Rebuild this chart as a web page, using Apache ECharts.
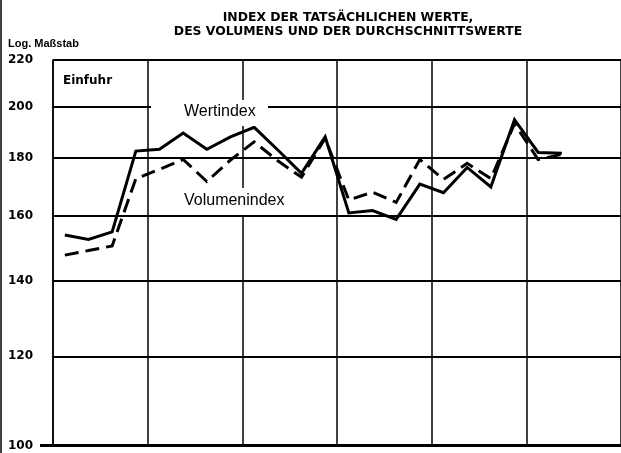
<!DOCTYPE html>
<html>
<head>
<meta charset="utf-8">
<script src="https://cdn.jsdelivr.net/npm/echarts@6/dist/echarts.min.js"></script>
<style>html,body{margin:0;padding:0;background:#fff;}#c{width:621px;height:453px;}</style>
</head>
<body>
<div id="c"></div>
<script>
// Quarters over six years (axis labels not shown in the reference)
const categories = [];
for (let y = 1; y <= 6; y++) { for (let q = 1; q <= 4; q++) { categories.push(y + '-' + q); } }
// Wertindex (solid line)
const wertindex = [153.8, 152.4, 154.8, 182.6, 183.3, 189.5, 183.3, 188.0, 191.7, 183.0, 174.5, 188.0,
                   160.9, 161.7, 158.8, 170.7, 167.7, 176.6, 169.7, 194.7, 182.1, 181.8];
// Volumenindex (dashed line)
const volumenindex = [147.6, 149.0, 150.4, 172.6, 175.9, 179.5, 171.6, 179.3, 186.1, 179.0, 173.1, 187.5,
                      165.2, 167.9, 164.4, 179.5, 172.3, 178.1, 172.6, 193.1, 179.5, 181.4];
// Log-scale tick labels
const yTicks = [100, 120, 140, 160, 180, 200, 220];
const titleLines = ['INDEX DER TATSÄCHLICHEN WERTE,', 'DES VOLUMENS UND DER DURCHSCHNITTSWERTE'];

const chart = echarts.init(document.getElementById('c'), null, {renderer: 'canvas'});
const labelFont = {fontFamily: 'DejaVu Sans', fontWeight: 'bold', fontSize: 12, color: '#000'};

chart.setOption({
  animation: false,
  backgroundColor: '#fff',
  title: {
    text: titleLines.join('\n'),
    left: 343, top: 6, textAlign: 'center',
    textStyle: {fontFamily: 'DejaVu Sans', fontWeight: 'bold', fontSize: 12.4, lineHeight: 14, color: '#000'}
  },
  grid: {left: 53, top: 60, width: 570, bottom: 7.5},
  xAxis: {
    type: 'category', data: categories, boundaryGap: true,
    axisLine: {show: true, onZero: false, lineStyle: {color: '#000', width: 3}},
    axisTick: {show: false}, axisLabel: {show: false},
    splitLine: {show: true, interval: 3, lineStyle: {color: '#000', width: 1.5}}
  },
  yAxis: {
    type: 'log', logBase: 10, min: 100, max: 220,
    axisLine: {show: true, lineStyle: {color: '#000', width: 1.5}},
    axisTick: {show: false}, axisLabel: {show: false}, splitLine: {show: false}
  },
  series: [
    {
      name: 'Wertindex', type: 'line', data: wertindex, showSymbol: false, symbol: 'none',
      lineStyle: {color: '#000', width: 3, join: 'miter'}, z: 5,
      markLine: {
        silent: true, symbol: 'none', animation: false,
        lineStyle: {color: '#000', width: 2, type: 'solid'},
        label: Object.assign({position: 'start', distance: 20, formatter: p => String(p.value)}, labelFont),
        data: yTicks.map(v => ({yAxis: v}))
      }
    },
    {
      name: 'Volumenindex', type: 'line', data: volumenindex, showSymbol: false, symbol: 'none',
      lineStyle: {color: '#000', width: 3, type: [14, 7], join: 'miter'}, z: 5
    }
  ],
  graphic: [
    {type: 'line', shape: {x1: 1, y1: 0, x2: 1, y2: 453}, style: {stroke: '#000', lineWidth: 1.5}, z: 50},
    {type: 'line', shape: {x1: 40, y1: 445.5, x2: 53, y2: 445.5}, style: {stroke: '#000', lineWidth: 3}, z: 50},
    {type: 'text', left: 8, top: 38, style: {text: 'Log. Maßstab', font: 'bold 11px "Liberation Sans"', fill: '#000'}, z: 50},
    {type: 'text', left: 63, top: 75, style: {text: 'Einfuhr', font: 'bold 12px "DejaVu Sans"', fill: '#000'}, z: 50},
    {type: 'rect', shape: {x: 151, y: 100, width: 117, height: 26}, style: {fill: '#fff'}, z: 60},
    {type: 'text', left: 184, top: 104, style: {text: 'Wertindex', font: '16px "Liberation Sans"', fill: '#000'}, z: 61},
    {type: 'rect', shape: {x: 170, y: 188, width: 128, height: 27}, style: {fill: '#fff'}, z: 60},
    {type: 'text', left: 184, top: 193, style: {text: 'Volumenindex', font: '16px "Liberation Sans"', fill: '#000'}, z: 61}
  ]
});
</script>
</body>
</html>
